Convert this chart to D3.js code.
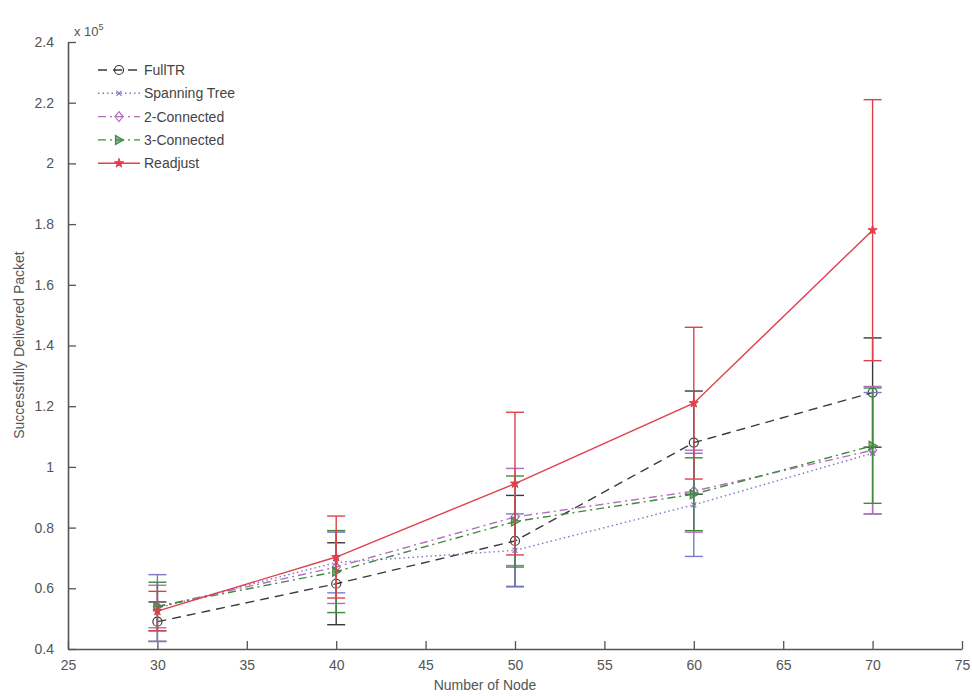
<!DOCTYPE html>
<html>
<head>
<meta charset="utf-8">
<script src="https://cdn.jsdelivr.net/npm/d3@7"></script>
<style>
  body { margin: 0; background: #fff; }
  text { font-family: "Liberation Sans", Arial, sans-serif; }
</style>
</head>
<body>
<svg id="chart" width="972" height="696"></svg>
<script>
// Nombre de noeuds (axe X)
const nodes = [30, 40, 50, 60, 70];

// Paquets livrés (x 10^5) et barres d'erreur
const fullTR = [0.49, 0.615, 0.756, 1.08, 1.245];
const fullTRErr = [0.065, 0.135, 0.15, 0.17, 0.18];
const spanning = [0.535, 0.685, 0.725, 0.875, 1.045];
const spanningErr = [0.11, 0.1, 0.12, 0.17, 0.2];
const twoConn = [0.54, 0.67, 0.835, 0.92, 1.055];
const twoConnErr = [0.07, 0.12, 0.16, 0.135, 0.21];
const threeConn = [0.54, 0.655, 0.82, 0.91, 1.07];
const threeConnErr = [0.08, 0.135, 0.15, 0.12, 0.19];
const readjust = [0.525, 0.703, 0.945, 1.21, 1.78];
const readjustErr = [0.065, 0.135, 0.235, 0.25, 0.43];

const seriesNames = ["FullTR", "Spanning Tree", "2-Connected", "3-Connected", "Readjust"];
const xTicks = [25, 30, 35, 40, 45, 50, 55, 60, 65, 70, 75];
const yTicks = [0.4, 0.6, 0.8, 1, 1.2, 1.4, 1.6, 1.8, 2, 2.2, 2.4];

const series = [
  { name: seriesNames[0], values: fullTR, err: fullTRErr, color: "#3a3a3a", dash: "9,6", marker: "circle" },
  { name: seriesNames[1], values: spanning, err: spanningErr, color: "#7a7ac8", dash: "1.5,3", marker: "x" },
  { name: seriesNames[2], values: twoConn, err: twoConnErr, color: "#b070b8", dash: "8,4,2,4", marker: "diamond" },
  { name: seriesNames[3], values: threeConn, err: threeConnErr, color: "#3f8a3f", dash: "8,4,2,4", marker: "triangle" },
  { name: seriesNames[4], values: readjust, err: readjustErr, color: "#e0404c", dash: null, marker: "star" },
];

const svg = d3.select("#chart");
const margin = { top: 42, left: 68, right: 10, bottom: 47 };
const width = 972, height = 696;

const x = d3.scaleLinear().domain([25, 75]).range([margin.left, width - margin.right]);
const y = d3.scaleLinear().domain([0.4, 2.4]).range([height - margin.bottom, margin.top]);

const axisColor = "#555";
const textColor = "#555";

// Axes (ticks vers l'intérieur)
const gx = svg.append("g")
  .attr("transform", `translate(0, ${y(0.4)})`)
  .call(d3.axisBottom(x).tickValues(xTicks).tickSizeInner(-8).tickSizeOuter(0).tickPadding(14));
const gy = svg.append("g")
  .attr("transform", `translate(${x(25)}, 0)`)
  .call(d3.axisLeft(y).tickValues(yTicks).tickSizeInner(-8).tickSizeOuter(0).tickPadding(14)
    .tickFormat(d3.format("~g")));

[gx, gy].forEach((g) => {
  g.select(".domain").attr("stroke", axisColor).attr("stroke-width", 1.6);
  g.selectAll(".tick line").attr("stroke", axisColor).attr("stroke-width", 1.3);
  g.selectAll(".tick text").attr("fill", textColor).style("font-size", "14px");
});
gx.selectAll(".tick text").attr("dy", "0.5em");

// Multiplicateur x 10^5
const mult = svg.append("text")
  .attr("x", x(25) + 6)
  .attr("y", margin.top - 6)
  .attr("fill", textColor)
  .style("font-size", "13px")
  .text("x 10");
mult.append("tspan").attr("dy", -6).style("font-size", "9px").text("5");

// Titres des axes
svg.append("text")
  .attr("x", 485)
  .attr("y", 690)
  .attr("text-anchor", "middle")
  .attr("fill", textColor)
  .style("font-size", "14px")
  .text("Number of Node");

svg.append("text")
  .attr("transform", "rotate(-90)")
  .attr("x", -345)
  .attr("y", 24)
  .attr("text-anchor", "middle")
  .attr("fill", textColor)
  .style("font-size", "14px")
  .text("Successfully Delivered Packet");

// Marqueurs
function drawMarker(g, type, cx, cy, color) {
  if (type === "circle") {
    g.append("circle").attr("cx", cx).attr("cy", cy).attr("r", 4.5)
      .attr("fill", "none").attr("stroke", color).attr("stroke-width", 1.2);
  } else if (type === "x") {
    g.append("path")
      .attr("d", `M${cx - 2.5},${cy - 2.5}L${cx + 2.5},${cy + 2.5}M${cx - 2.5},${cy + 2.5}L${cx + 2.5},${cy - 2.5}`)
      .attr("stroke", color).attr("stroke-width", 1.2);
  } else if (type === "diamond") {
    g.append("path")
      .attr("d", `M${cx},${cy - 5}L${cx + 4},${cy}L${cx},${cy + 5}L${cx - 4},${cy}Z`)
      .attr("fill", "none").attr("stroke", color).attr("stroke-width", 1.2);
  } else if (type === "triangle") {
    g.append("path")
      .attr("d", `M${cx - 3.5},${cy - 4.5}L${cx + 4.5},${cy}L${cx - 3.5},${cy + 4.5}Z`)
      .attr("fill", color).attr("fill-opacity", 0.6).attr("stroke", color).attr("stroke-width", 1.2);
  } else if (type === "star") {
    g.append("path")
      .attr("d", d3.symbol().type(d3.symbolStar).size(26)())
      .attr("transform", `translate(${cx},${cy})`)
      .attr("fill", color).attr("stroke", color);
  }
}

const line = d3.line().x((d) => x(d.n)).y((d) => y(d.v));
const cap = 9;

series.forEach((s) => {
  const pts = nodes.map((n, i) => ({ n, v: s.values[i], e: s.err[i] }));
  const g = svg.append("g");

  // Barres d'erreur
  pts.forEach((p) => {
    const px = x(p.n);
    const y1 = y(p.v + p.e), y0 = y(p.v - p.e);
    g.append("line").attr("x1", px).attr("x2", px).attr("y1", y1).attr("y2", y0)
      .attr("stroke", s.color).attr("stroke-width", 1.4);
    [y1, y0].forEach((yy) => {
      g.append("line").attr("x1", px - cap).attr("x2", px + cap).attr("y1", yy).attr("y2", yy)
        .attr("stroke", s.color).attr("stroke-width", 1.4);
    });
  });

  // Ligne
  g.append("path")
    .datum(pts)
    .attr("fill", "none")
    .attr("stroke", s.color)
    .attr("stroke-width", 1.4)
    .attr("stroke-dasharray", s.dash)
    .attr("d", line);

  pts.forEach((p) => drawMarker(g, s.marker, x(p.n), y(p.v), s.color));
});

// Légende (sans cadre)
const legend = svg.append("g").attr("transform", "translate(98, 70)");
series.forEach((s, i) => {
  const row = legend.append("g").attr("transform", `translate(0, ${i * 23.3})`);
  row.append("line").attr("x1", 0).attr("x2", 42).attr("y1", 0).attr("y2", 0)
    .attr("stroke", s.color).attr("stroke-width", 1.4).attr("stroke-dasharray", s.dash);
  drawMarker(row, s.marker, 21, 0, s.color);
  row.append("text").attr("x", 46).attr("y", 5)
    .attr("fill", "#444").style("font-size", "14px").text(s.name);
});
</script>
</body>
</html>
